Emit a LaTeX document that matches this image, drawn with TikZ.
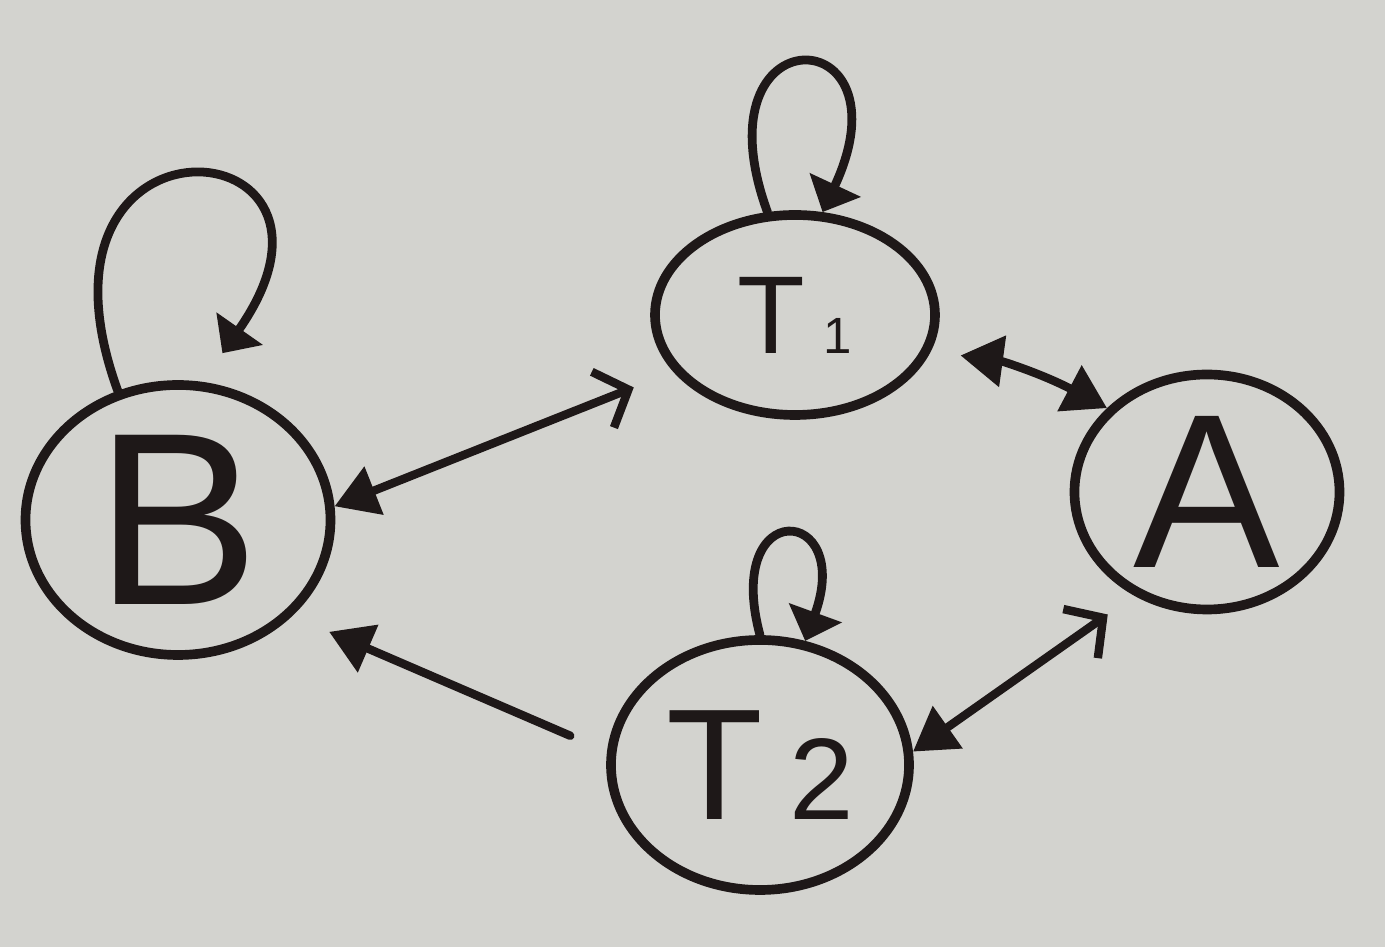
\documentclass[tikz,border=0pt]{standalone}
\usepackage{fontspec}
\setmainfont{Liberation Sans}
\usetikzlibrary{shapes.geometric, arrows.meta, positioning}
\definecolor{ink}{RGB}{30,24,24}
\definecolor{paper}{RGB}{211,211,207}
\tikzset{
  % Hand-drawn state (ellipse)
  statenode/.style={
    ellipse, draw=ink, line width=5.5pt, inner sep=0pt, text=ink
  },
  filltip/.tip={Triangle[length=0.85cm, width=1cm]},
  barbtip/.tip={Straight Barb[length=0.55cm, width=1.2cm]},
  linkarrow/.style={line width=4.8pt, draw=ink, line cap=round},
  % Self loop
  loopline/.style={line width=5pt, draw=ink, line cap=round,
    -{Triangle[length=0.6cm, width=1.1cm]}}
}

\begin{document}
\begin{tikzpicture}
  \fill[paper] (0,0) rectangle (27.7,18.94);

  % States
  \node[statenode, minimum width=6.1cm, minimum height=5.4cm,
    font=\fontsize{140}{140}\selectfont] (B) at (3.56,8.54) {B};
  \node[statenode, minimum width=5.6cm, minimum height=4.0cm,
    font=\fontsize{63}{63}\selectfont] (T1) at (15.9,12.64) {T\,{\fontsize{29}{29}\selectfont 1}};
  \node[statenode, minimum width=5.3cm, minimum height=4.7cm,
    font=\fontsize{125}{125}\selectfont] (A) at (24.14,9.10) {A};
  \node[statenode, minimum width=5.96cm, minimum height=5.0cm,
    font=\fontsize{90}{90}\selectfont] (T2) at (15.2,3.64) {T\,{\fontsize{66}{66}\selectfont 2}};

  % Self loops
  \draw[loopline, shorten >=0.7cm] (B.115) to[out=110, in=55, distance=6.3cm] (B.80);
  \draw[loopline] (T1.105) to[out=110, in=65, distance=4.3cm] (T1.75);
  \draw[loopline] (T2.90) to[out=105, in=70, distance=2.9cm] (T2.70);

  % Links
  \draw[linkarrow, filltip-barbtip, shorten >=0.85cm] (B.5) -- (T1.205);
  \draw[linkarrow, filltip-filltip, shorten >=0.6cm] (A.140) to[bend right=10] (T1.345);
  \draw[linkarrow, -filltip, shorten <=0.8cm, shorten >=0.8cm] (T2.175) -- (B.-40);
  \draw[linkarrow, filltip-barbtip, shorten >=0.65cm] (T2.5) -- (A.235);
\end{tikzpicture}
\end{document}
